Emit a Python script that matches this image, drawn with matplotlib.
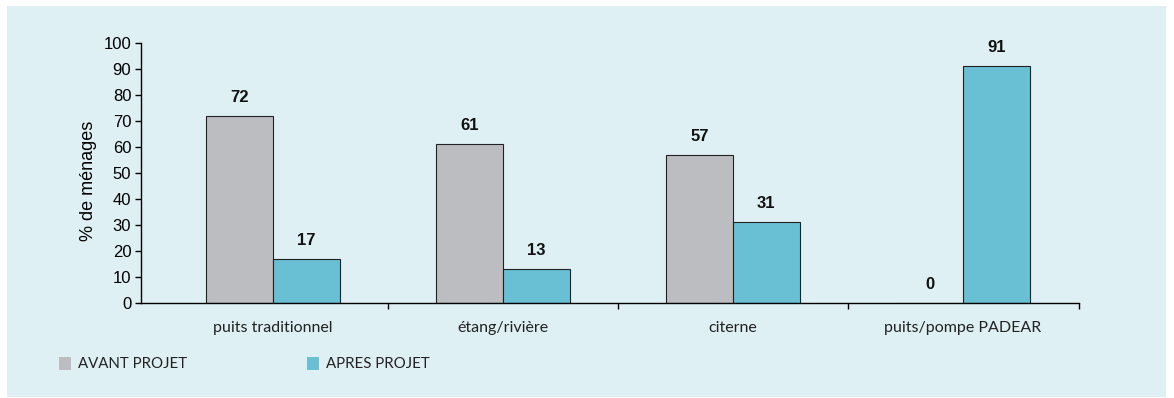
import matplotlib.pyplot as plt
from matplotlib.patches import Rectangle
import numpy as np

categories = ['puits traditionnel', 'étang/rivière', 'citerne', 'puits/pompe PADEAR']
avant = [72, 61, 57, 0]
apres = [17, 13, 31, 91]
series_names = ['AVANT PROJET', 'APRES PROJET']

grey = '#bcbdc1'
blue = '#69bfd4'
panel = '#def0f4'

fig = plt.figure(figsize=(11.74, 3.98), dpi=100)
fig.patch.set_facecolor('white')
fig.patches.append(Rectangle((7 / 1174, 1 / 398), 1159 / 1174, 391 / 398,
                             transform=fig.transFigure, facecolor=panel,
                             edgecolor='none', zorder=-5))

ax = fig.add_axes([141 / 1174, 95 / 398, 938 / 1174, 260 / 398])
ax.set_facecolor('none')
ax.set_zorder(1)

x = np.arange(len(categories))
w = 0.29
b1 = ax.bar(x - w / 2, avant, w, color=grey, edgecolor='#222222', linewidth=0.8)
b2 = ax.bar(x + w / 2, apres, w, color=blue, edgecolor='#222222', linewidth=0.8)

for bars, vals in ((b1, avant), (b2, apres)):
    for r, v in zip(bars, vals):
        ax.text(r.get_x() + r.get_width() / 2, v + 4.3, str(v), ha='center',
                va='bottom', fontsize=12, fontweight='bold',
                family='Liberation Sans', color='#111111')

ax.set_xlim(-0.574, 3.505)
ax.set_ylim(0, 100)
ax.set_yticks(range(0, 101, 10))
ax.tick_params(axis='y', labelsize=12, length=4, width=1, pad=3)
for lab in ax.get_yticklabels():
    lab.set_family('Liberation Sans')

# category separators on the x axis, names centred under each group
ax.set_xticks([0.5, 1.5, 2.5, 3.505])
ax.set_xticklabels([])
ax.tick_params(axis='x', length=4, width=1)
for xi, name in zip(x, categories):
    ax.text(xi, -7.0, name, ha='center', va='top', fontsize=11.5,
            family='Lato', color='#222222')

for s in ('top', 'right'):
    ax.spines[s].set_visible(False)
for s in ('left', 'bottom'):
    ax.spines[s].set_linewidth(1)

ax.set_ylabel('% de ménages', fontsize=13, family='Liberation Sans')
ax.yaxis.set_label_coords(-0.047, 0.47)

# legend drawn as square swatches below the plot
for xpos, col, name in ((59, grey, series_names[0]), (307, blue, series_names[1])):
    fig.patches.append(Rectangle((xpos / 1174, (398 - 370) / 398), 12 / 1174, 13 / 398,
                                 transform=fig.transFigure, facecolor=col,
                                 edgecolor='none'))
    fig.text((xpos + 19) / 1174, (398 - 364) / 398, name, fontsize=10.8,
             family='Lato', va='center', ha='left', color='#222222')

fig.savefig('out.png', dpi=100, facecolor=fig.get_facecolor())
